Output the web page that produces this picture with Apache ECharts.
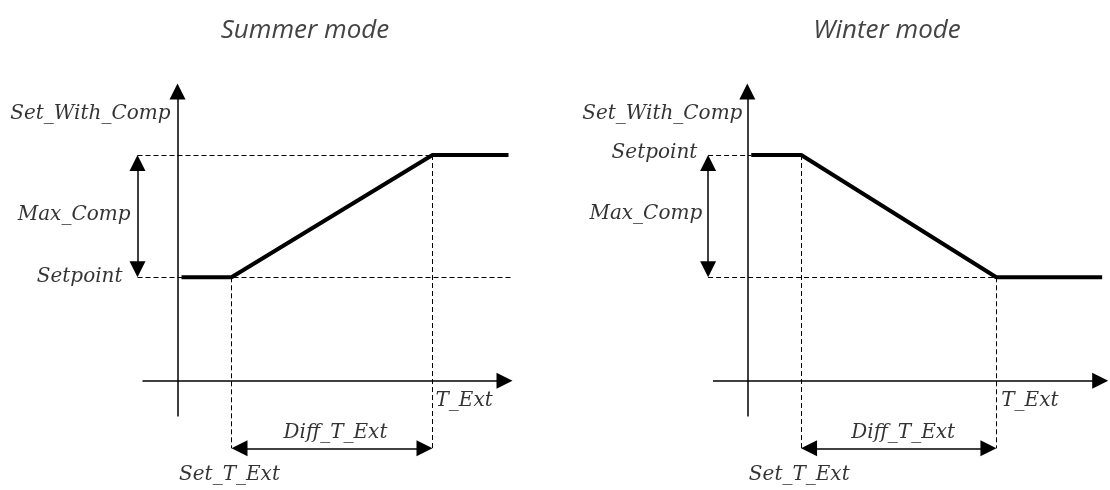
<!DOCTYPE html>
<html>
<head>
    <meta charset="utf-8"/>
    <title>Set_With_Comp</title>
    <script src="https://cdn.jsdelivr.net/npm/echarts@6/dist/echarts.min.js"></script>
</head>
<body style="margin:0;background:#fff">
<div id="main" style="width: 1110px; height: 490px"></div>
<script type="text/javascript">
    // units: one unit = 20 px, origin where the two axes cross
    var summerX = [0.2, 2.7, 12.75, 16.55];
    var summerY = [5.2, 5.2, 11.35, 11.35];
    var winterX = [0.2, 2.75, 12.7, 18.1];
    var winterY = [11.35, 11.35, 5.2, 5.2];

    // dashed guides: x1, y1, x2, y2
    var summerGuides = [[-2, 11.35, 12.75, 11.35], [-2, 5.2, 16.75, 5.2], [2.7, 5.2, 2.7, -3.4], [12.75, 11.35, 12.75, -3.4]];
    var winterGuides = [[-2, 11.35, 0.2, 11.35], [-2, 5.2, 12.7, 5.2], [2.75, 11.35, 2.75, -3.4], [12.7, 5.2, 12.7, -3.4]];

    // axes (one head) and dimension arrows (two heads): x1, y1, x2, y2 (tips)
    var summerAxes = [[0, -1.8, 0, 14.95], [-1.75, 0, 16.75, 0]];
    var summerDims = [[-2, 5.2, -2, 11.35], [2.7, -3.4, 12.75, -3.4]];
    var winterAxes = [[0, -1.8, 0, 14.95], [-1.75, 0, 18.4, 0]];
    var winterDims = [[-2, 5.2, -2, 11.35], [2.75, -3.4, 12.7, -3.4]];

    var summerLabels = ['Set_With_Comp', 'Max_Comp', 'Setpoint', 'T_Ext', 'Diff_T_Ext', 'Set_T_Ext'];
    var summerLabelX = [-0.35, -2.35, -2.75, 12.9, 7.9, 2.6];
    var summerLabelY = [13.45, 8.35, 5.25, -1.0, -2.6, -4.75];
    var winterLabels = ['Set_With_Comp', 'Setpoint', 'Max_Comp', 'T_Ext', 'Diff_T_Ext', 'Set_T_Ext'];
    var winterLabelX = [-0.25, -2.55, -2.3, 12.95, 7.95, 2.65];
    var winterLabelY = [13.45, 11.45, 8.4, -1.0, -2.6, -4.75];
    var labelAlign = ['right', 'right', 'right', 'left', 'center', 'center'];

    var HEAD = 0.4; // half of the arrow head, in units

    function pairs(xs, ys) {
        return xs.map(function (x, i) { return [x, ys[i]]; });
    }

    function segs(list) {
        return list.map(function (s) { return {coords: [[s[0], s[1]], [s[2], s[3]]]}; });
    }

    // pull the line ends back so the triangle tips land on the given points
    function arrows(list, both) {
        return list.map(function (a) {
            var dx = a[2] - a[0], dy = a[3] - a[1];
            var len = Math.sqrt(dx * dx + dy * dy);
            var ux = dx / len * HEAD, uy = dy / len * HEAD;
            var from = both ? [a[0] + ux, a[1] + uy] : [a[0], a[1]];
            return {coords: [from, [a[2] - ux, a[3] - uy]]};
        });
    }

    function labels(texts, xs, ys) {
        return texts.map(function (t, i) {
            return {name: t, value: [xs[i], ys[i]], label: {align: labelAlign[i]}};
        });
    }

    function panel(idx, curveX, curveY, guides, axes, dims, texts, lx, ly) {
        var ax = {xAxisIndex: idx, yAxisIndex: idx, coordinateSystem: 'cartesian2d'};
        return [
            Object.assign({
                type: 'lines', z: 2,
                lineStyle: {color: '#000', width: 1, type: [5, 3], opacity: 1},
                data: segs(guides)
            }, ax),
            Object.assign({
                type: 'lines', z: 3,
                symbol: ['none', 'triangle'], symbolSize: 16,
                lineStyle: {color: '#000', width: 1.5, opacity: 1},
                data: arrows(axes, false)
            }, ax),
            Object.assign({
                type: 'lines', z: 3,
                symbol: ['triangle', 'triangle'], symbolSize: 16,
                lineStyle: {color: '#000', width: 1.5, opacity: 1},
                data: arrows(dims, true)
            }, ax),
            {
                type: 'line', xAxisIndex: idx, yAxisIndex: idx, z: 4,
                showSymbol: false, symbol: 'none',
                lineStyle: {color: '#000', width: 4},
                data: pairs(curveX, curveY)
            },
            {
                type: 'scatter', xAxisIndex: idx, yAxisIndex: idx, z: 5,
                symbolSize: 0,
                label: {
                    show: true, position: 'inside', verticalAlign: 'middle',
                    formatter: '{b}', color: '#000',
                    fontFamily: '"DejaVu Serif", serif', fontStyle: 'italic', fontSize: 20
                },
                data: labels(texts, lx, ly)
            }
        ];
    }

    var myChart = echarts.init(document.getElementById('main'));

    var hidden = {type: 'value', show: false, splitLine: {show: false}};
    var titleFont = {fontFamily: 'Open Sans', fontStyle: 'italic', fontWeight: 'normal', fontSize: 26, color: '#444'};
    var option = {
        animation: false,
        backgroundColor: '#fff',
        title: [
            {text: 'Summer mode', left: 300, top: 13, textAlign: 'center', textStyle: titleFont},
            {text: 'Winter mode', left: 882, top: 13, textAlign: 'center', textStyle: titleFont}
        ],
        grid: [
            {left: 117.5, top: 82.5, width: 400, height: 410},
            {left: 688.5, top: 82.5, width: 430, height: 410}
        ],
        xAxis: [
            Object.assign({gridIndex: 0, min: -3, max: 17}, hidden),
            Object.assign({gridIndex: 1, min: -3, max: 18.5}, hidden)
        ],
        yAxis: [
            Object.assign({gridIndex: 0, min: -5.5, max: 15}, hidden),
            Object.assign({gridIndex: 1, min: -5.5, max: 15}, hidden)
        ],
        series: panel(0, summerX, summerY, summerGuides, summerAxes, summerDims, summerLabels, summerLabelX, summerLabelY)
            .concat(panel(1, winterX, winterY, winterGuides, winterAxes, winterDims, winterLabels, winterLabelX, winterLabelY))
    };

    myChart.setOption(option);
</script>
</body>
</html>
